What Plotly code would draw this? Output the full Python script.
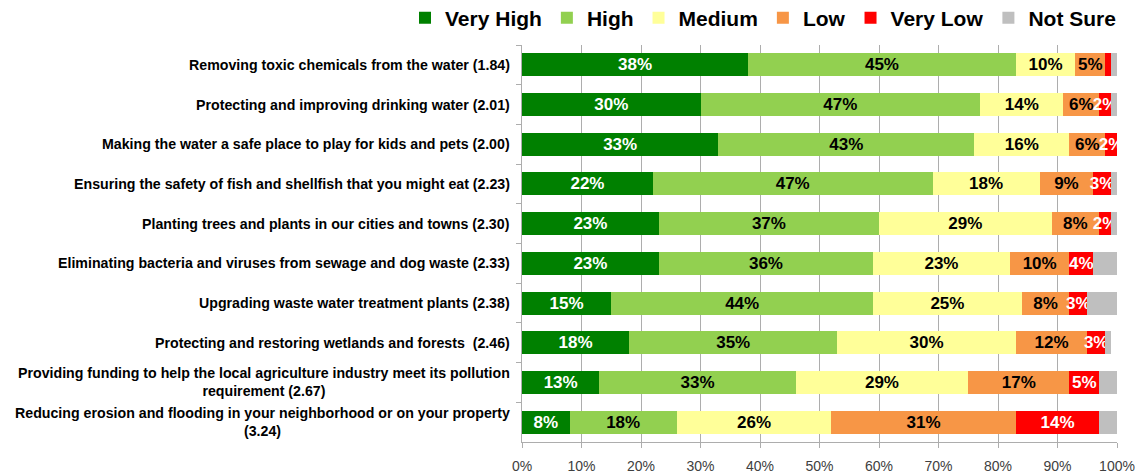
import plotly.graph_objects as go

# Survey items (top to bottom) with their mean score shown in parentheses
items = [
    "Removing toxic chemicals from the water (1.84)",
    "Protecting and improving drinking water (2.01)",
    "Making the water a safe place to play for kids and pets (2.00)",
    "Ensuring the safety of fish and shellfish that you might eat (2.23)",
    "Planting trees and plants in our cities and towns (2.30)",
    "Eliminating bacteria and viruses from sewage and dog waste (2.33)",
    "Upgrading waste water treatment plants (2.38)",
    "Protecting and restoring wetlands and forests  (2.46)",
    "Providing funding to help the local agriculture industry meet its pollution<br>requirement (2.67)",
    "Reducing erosion and flooding in your neighborhood or on your property<br>(3.24)",
]

# Share of respondents (%) per priority level
very_high = [38, 30, 33, 22, 23, 23, 15, 18, 13, 8]
high      = [45, 47, 43, 47, 37, 36, 44, 35, 33, 18]
medium    = [10, 14, 16, 18, 29, 23, 25, 30, 29, 26]
low       = [5, 6, 6, 9, 8, 10, 8, 12, 17, 31]
very_low  = [1, 2, 2, 3, 2, 4, 3, 3, 5, 14]
not_sure  = [1, 1, 1, 2, 1, 4, 5, 1, 3, 3]

levels = ["Very High", "High", "Medium", "Low", "Very Low", "Not Sure"]
series = [very_high, high, medium, low, very_low, not_sure]
colors = ["#008000", "#92D050", "#FFFF99", "#F79646", "#FF0000", "#BFBFBF"]
label_colors = ["white", "black", "black", "black", "white", None]

FONT = "Liberation Sans, Arial, sans-serif"

W, H = 1138, 475
ML, MR, MT, MB = 522, 21, 45, 33
plot_w = W - ML - MR
plot_h = H - MT - MB

fig = go.Figure()
for name, vals, col, lc in zip(levels, series, colors, label_colors):
    if lc is None:
        texts = [""] * len(vals)
    else:
        texts = [f"{v}%" if v >= 2 else "" for v in vals]
    fig.add_trace(go.Bar(
        name=name,
        y=items,
        x=vals,
        orientation="h",
        marker=dict(color=col, line=dict(width=0)),
        text=texts,
        textposition="inside",
        insidetextanchor="middle",
        textangle=0,
        constraintext="none",
        cliponaxis=False,
        textfont=dict(family=FONT, size=17, color=lc or "black", weight="bold"),
        hovertemplate="%{y}<br>" + name + ": %{x}%<extra></extra>",
    ))

# Category labels, right-aligned to the axis with centred wrapped lines
for it in items:
    fig.add_annotation(
        text=it, xref="paper", x=0, xshift=-10, xanchor="right",
        yref="y", y=it, yanchor="middle", align="center", showarrow=False,
        font=dict(family=FONT, size=14.2, color="black", weight="bold"),
    )

fig.update_layout(
    barmode="stack",
    bargap=0.42,
    width=W,
    height=H,
    margin=dict(l=ML, r=MR, t=MT, b=MB, autoexpand=False),
    paper_bgcolor="white",
    plot_bgcolor="white",
    font=dict(family=FONT),
    legend=dict(
        orientation="h",
        x=(405 - ML) / plot_w, xanchor="left",
        y=1 + (MT - 18) / plot_h, yanchor="middle",
        font=dict(family=FONT, size=21, color="black", weight="bold"),
        itemwidth=30,
        traceorder="normal",
        bgcolor="rgba(0,0,0,0)",
    ),
    xaxis=dict(
        range=[0, 100],
        tickvals=list(range(0, 101, 10)),
        ticktext=[f"{v}%" for v in range(0, 101, 10)],
        showgrid=True,
        gridcolor="#ADADAD",
        gridwidth=1,
        showline=True,
        linecolor="#ADADAD",
        ticks="outside",
        ticklen=5,
        tickcolor="#ADADAD",
        ticklabelstandoff=6,
        tickfont=dict(family=FONT, size=14, color="#404040"),
        zeroline=False,
        automargin=False,
        fixedrange=True,
    ),
    yaxis=dict(
        autorange="reversed",
        showticklabels=False,
        showline=True,
        linecolor="#ADADAD",
        ticks="outside",
        ticklen=5,
        tickcolor="#ADADAD",
        tickson="boundaries",
        showgrid=False,
        automargin=False,
        fixedrange=True,
    ),
)

fig.write_html("out.html")
